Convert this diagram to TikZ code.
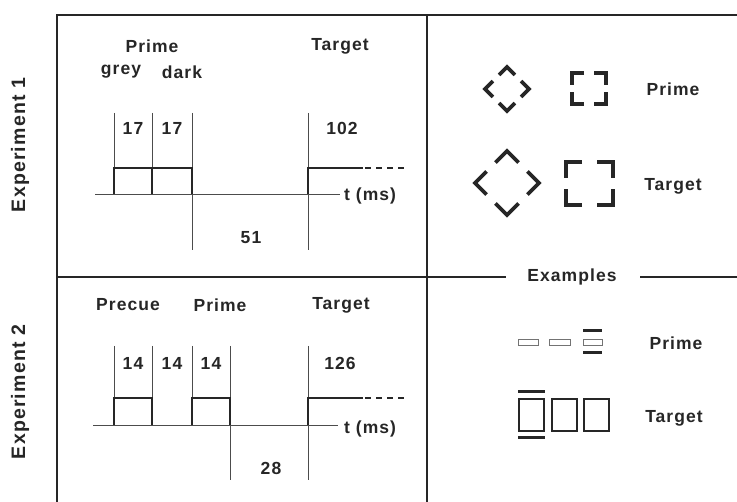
\documentclass[tikz,border=0pt]{standalone}
\usepackage{fontspec}
\setmainfont{Liberation Sans}[LetterSpace=6]
\begin{document}
\begin{tikzpicture}[x=1pt,y=-1pt,
  frame/.style={line width=2.6pt,black!85},
  tick/.style={line width=0.7pt,black!70},
  pulse/.style={line width=1.5pt,black!85},
  lbl/.style={font=\bfseries\fontsize{17.5}{20}\selectfont,inner sep=0pt,text=black!85},
  explbl/.style={font=\bfseries\fontsize{19.5}{22}\selectfont,inner sep=0pt,rotate=90,text=black!85},
  chev/.style={line width=3.6pt,black!85,line join=miter,line cap=butt},
  thickbox/.style={line width=2.6pt,black!85},
  thinbox/.style={line width=1pt,black!55},
  bar/.style={line width=3pt,black!85}]
\useasboundingbox (0,0) rectangle (737,502);
\newcommand\diamondmark[3]{%
  \foreach \a in {0,90,180,270}{%
    \draw[chev,shift={(#1,#2)},rotate=\a] ({-0.36*#3},{-0.64*#3}) -- (0,{-#3}) -- ({0.36*#3},{-0.64*#3});}}
\newcommand\bracketmark[5]{%
  \foreach \sx/\sy in {1/1,1/-1,-1/1,-1/-1}{%
    \draw[chev,shift={(#1,#2)},xscale=\sx,yscale=\sy] ({#3-#5},{-#4}) -- (#3,{-#4}) -- (#3,{-#4+#5});}}
% ---------------- frame
\coordinate (TL) at (57,15);
\coordinate (TR) at (737,15);
\coordinate (BL) at (57,502);
\coordinate (MT) at (427,15);
\coordinate (MB) at (427,502);
\coordinate (HL) at (57,277);
\coordinate (HR) at (737,277);
\draw[frame] (BL) -- (TL) -- (TR);
\draw[frame] (MT) -- (MB);
\node[lbl] (examples) at (572,277) {Examples};
\coordinate (EL) at (506,277);
\coordinate (ER) at (640,277);
\draw[frame] (HL) -- (EL);
\draw[frame] (ER) -- (HR);
% ---------------- side labels
\node[explbl] (exp1) at (20,145) {Experiment 1};
\node[explbl] (exp2) at (20,392) {Experiment 2};
% ---------------- Experiment 1 timeline
\coordinate (b1s) at (95,194);
\coordinate (b1e) at (340,194);
\draw[tick] (b1s) -- (b1e);
\draw[tick] (114,113) -- (114,194);
\draw[tick] (152,113) -- (152,194);
\draw[tick] (192,113) -- (192,250);
\draw[tick] (308,113) -- (308,250);
\draw[pulse] (114,194) -- (114,168) -- (192,168) -- (192,194);
\draw[pulse] (152,168) -- (152,194);
\draw[pulse] (308,194) -- (308,168) -- (363,168);
\draw[pulse,dash pattern=on 6pt off 5pt] (365,168) -- (406,168);
\node[lbl] (p1) at (152,46) {Prime};
\node[lbl] (grey) at (121,72) {grey};
\node[lbl] (dark) at (182,72) {dark};
\node[lbl] (t1) at (340,46) {Target};
\node[lbl] (n17a) at (133,128) {17};
\node[lbl] (n17b) at (172,128) {17};
\node[lbl] (n102) at (342,128) {102};
\node[lbl] (n51) at (251,238) {51};
\node[lbl,anchor=west] (ms1) at (344,196) {t (ms)};
% ---------------- Experiment 2 timeline
\coordinate (b2s) at (93,425);
\coordinate (b2e) at (338,425);
\draw[tick] (b2s) -- (b2e);
\draw[tick] (114,346) -- (114,425);
\draw[tick] (152,346) -- (152,425);
\draw[tick] (192,346) -- (192,425);
\draw[tick] (230,346) -- (230,480);
\draw[tick] (308,346) -- (308,480);
\draw[pulse] (114,425) -- (114,398) -- (152,398) -- (152,425);
\draw[pulse] (192,425) -- (192,398) -- (230,398) -- (230,425);
\draw[pulse] (308,425) -- (308,398) -- (363,398);
\draw[pulse,dash pattern=on 6pt off 5pt] (365,398) -- (406,398);
\node[lbl] (pre) at (128,305) {Precue};
\node[lbl] (p2) at (220,305) {Prime};
\node[lbl] (t2) at (341,305) {Target};
\node[lbl] (n14a) at (133,363) {14};
\node[lbl] (n14b) at (172,363) {14};
\node[lbl] (n14c) at (211,363) {14};
\node[lbl] (n126) at (340,363) {126};
\node[lbl] (n28) at (271,468) {28};
\node[lbl,anchor=west] (ms2) at (344,429) {t (ms)};
% ---------------- right top: shapes
\diamondmark{507}{89}{22}
\bracketmark{589}{88.5}{17}{15.5}{12}
\node[lbl] (rp1) at (673,89) {Prime};
\diamondmark{507}{183}{32}
\bracketmark{589.5}{183.5}{23.5}{21.5}{16}
\node[lbl] (rt1) at (673,186) {Target};
% ---------------- right bottom: examples
\draw[thinbox] (518,340) rectangle (538,346);
\draw[thinbox] (549,340) rectangle (570,346);
\draw[thinbox] (583,340) rectangle (602,346);
\draw[bar] (583,331) -- (602,331);
\draw[bar] (583,353) -- (602,353);
\node[lbl] (rp2) at (676,343) {Prime};
\draw[thickbox] (519,399) rectangle (544,431);
\draw[thickbox] (552,399) rectangle (577,431);
\draw[thickbox] (584,399) rectangle (609,431);
\draw[bar] (518,392) -- (545,392);
\draw[bar] (518,438) -- (545,438);
\node[lbl] (rt2) at (674,418) {Target};
\end{tikzpicture}
\end{document}
